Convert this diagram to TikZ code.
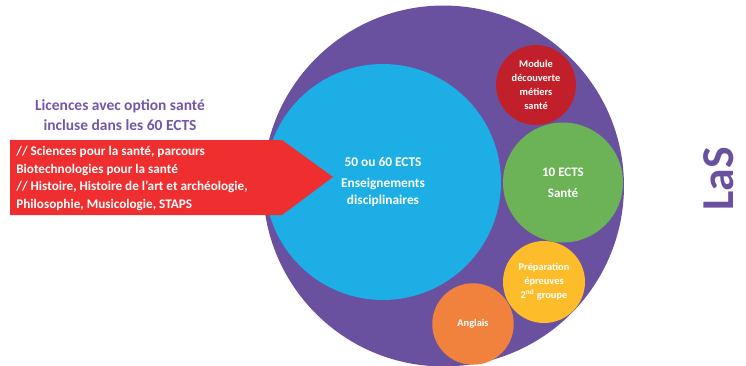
\documentclass[tikz,border=0pt]{standalone}
\usepackage{fontspec}
\setmainfont{Carlito}
\definecolor{LasPurple}{HTML}{6A51A0}
\definecolor{TitlePurple}{HTML}{7356A8}
\definecolor{DiscBlue}{HTML}{1CAEE4}
\definecolor{ModRed}{HTML}{C1202A}
\definecolor{SanteGreen}{HTML}{6BB356}
\definecolor{PrepYellow}{HTML}{FDBD2A}
\definecolor{AngOrange}{HTML}{F0823E}
\definecolor{ArrowRed}{HTML}{EE2E2F}

\tikzset{
  bubble/.style={circle, fill=#1, text=white, font=\bfseries, align=center, inner sep=0pt},
}

\begin{document}
\begin{tikzpicture}[x=0.02cm,y=-0.02cm]
			\useasboundingbox (0,0) rectangle (746,365);
			% la LaS et ses parties
			\node[bubble=LasPurple, minimum size=7.22cm] (las) at (443.5,186) {};
			\node[bubble=DiscBlue, minimum size=4.72cm, font=\fontsize{7.6}{9.6}\selectfont\bfseries] (disc) at (383,182) {50 ou 60 ECTS\\[2.3pt] Enseignements\\ disciplinaires};
			\node[bubble=ModRed, minimum size=1.6cm, font=\fontsize{5.9}{7.9}\selectfont\bfseries] (module) at (536,85) {Module\\ découverte\\ métiers\\ santé};
			\node[bubble=SanteGreen, minimum size=2.4cm, font=\fontsize{7.4}{11.9}\selectfont\bfseries] (sante) at (563,182.5) {10 ECTS\\ Santé};
			\node[bubble=PrepYellow, minimum size=1.64cm, font=\fontsize{5.9}{7.9}\selectfont\bfseries] (prep) at (544,282) {Préparation\\ épreuves\\ 2\textsuperscript{nd} groupe};
			\node[bubble=AngOrange, minimum size=1.63cm, font=\fontsize{5.9}{7.9}\selectfont\bfseries] (anglais) at (473,324) {Anglais};

			% la fleche des licences
			\fill[ArrowRed] (10,140) -- (282,140) -- (333,177) -- (282,215) -- (10,215) -- cycle;
			\node[anchor=west, inner sep=0pt, align=left, text=white, font=\fontsize{7.5}{10}\selectfont\bfseries] (licences) at (16,178.5) {// Sciences pour la santé, parcours\\ Biotechnologies pour la santé\\ // Histoire, Histoire de l’art et archéologie,\\ Philosophie, Musicologie, STAPS};
			\node[align=center, text=TitlePurple, font=\fontsize{8.8}{11.3}\selectfont\bfseries] (titre) at (120,115) {Licences avec option santé\\ incluse dans les 60 ECTS};

			\node[rotate=90, text=LasPurple, font=\fontsize{26}{30}\selectfont\bfseries] (sigle) at (719,179) {LaS};
		\end{tikzpicture}
\end{document}
